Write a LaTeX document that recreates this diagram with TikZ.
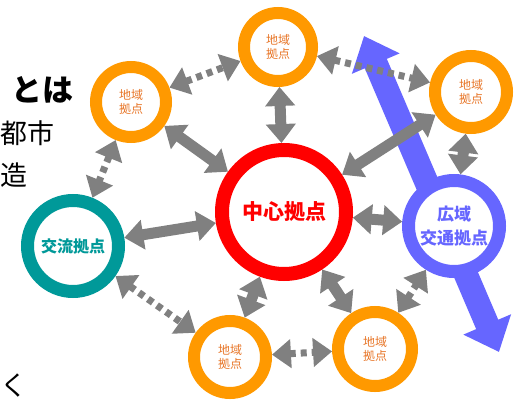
\documentclass[tikz,border=0pt]{standalone}
\usepackage{fontspec}
\setmainfont{Noto Sans CJK JP}
\usetikzlibrary{arrows.meta}
\definecolor{ringO}{RGB}{255,153,0}
\definecolor{textO}{RGB}{232,118,40}
\definecolor{tealC}{RGB}{0,153,153}
\definecolor{redC}{RGB}{255,0,0}
\definecolor{blueC}{RGB}{102,102,255}
\definecolor{grayA}{RGB}{128,128,128}
\pgfdeclarelayer{bgA}
\pgfdeclarelayer{bgB}
\pgfsetlayers{bgA,bgB,main}
\tikzset{
  ring/.style={circle, draw, fill=white, inner sep=0pt, align=center},
  localhub/.style={ring, draw=ringO, line width=12pt, outer sep=6pt, minimum size=#1,
    text=textO, font=\fontsize{12}{14}\selectfont},
  bigring/.style={ring, line width=13pt, outer sep=6.5pt, minimum size=#1, font=\bfseries},
  solidarr/.style={draw=grayA, line width=11pt,
    arrows={Triangle[length=19pt,width=29pt]-Triangle[length=19pt,width=29pt]}},
  dotarr/.style={draw=grayA, line width=7pt, dash pattern=on 6pt off 5pt,
    arrows={Triangle[length=19pt,width=28pt]-Triangle[length=19pt,width=28pt]}},
  bluearr/.style={draw=blueC, line width=24pt,
    arrows={Triangle[length=30pt,width=50pt]-Triangle[length=30pt,width=50pt]}},
  leftbig/.style={anchor=east, inner sep=0pt, font=\fontsize{31}{31}\selectfont\bfseries},
  lefttext/.style={anchor=west, inner sep=0pt, font=\fontsize{27}{27}\selectfont}
}
\begin{document}
\begin{tikzpicture}[x=1pt,y=-1pt]
\useasboundingbox (0,0) rectangle (521,401);

% hubs
\node[localhub=68] (top) at (278,47) {地域\\拠点};
\node[localhub=70] (tl) at (131,102) {地域\\拠点};
\node[localhub=72] (tr) at (471,92) {地域\\拠点};
\node[localhub=72] (bl) at (230,357) {地域\\拠点};
\node[localhub=74] (br) at (375,349) {地域\\拠点};
\node[bigring=91, draw=tealC, text=tealC, font=\fontsize{16}{18}\selectfont\bfseries] (teal) at (73,246) {交流拠点};
\node[bigring=124, line width=14pt, outer sep=7pt, draw=redC, text=redC, font=\fontsize{21}{24}\selectfont\bfseries] (center) at (284,212) {中心拠点};
\node[bigring=91, draw=blueC, text=blueC, font=\fontsize{17}{24}\selectfont\bfseries] (wide) at (454,226) {広域\\交通拠点};

% big blue arrow
\coordinate (bt) at (364,36);
\coordinate (bb) at (499,352);
\begin{pgfonlayer}{bgA}
\draw[bluearr] (bt) -- (bb);
\end{pgfonlayer}

% gray connectors
\begin{pgfonlayer}{bgB}
\draw[dotarr] (tl) -- (top);
\draw[dotarr] (top) -- (tr);
\draw[dotarr] (tl) -- (teal);
\draw[solidarr] (tl) -- (center);
\draw[solidarr] (top) -- (center);
\draw[solidarr] (center) -- (tr);
\draw[solidarr] (tr) -- (wide);
\draw[solidarr] (teal) -- (center);
\draw[solidarr] (center) -- (wide);
\draw[dotarr] (teal) -- (bl);
\draw[solidarr] (center) -- (bl);
\draw[solidarr] (center) -- (br);
\draw[dotarr] (bl) -- (br);
\draw[dotarr] (br) -- (wide);
\end{pgfonlayer}

% left text (cut off in the reference)
\node[leftbig] (t1) at (74,90) {とは};
\node[lefttext] (t2) at (0,133) {都市};
\node[lefttext] (t3) at (0,175) {造};
\node[lefttext] (t4) at (0,386) {く};
\end{tikzpicture}
\end{document}
